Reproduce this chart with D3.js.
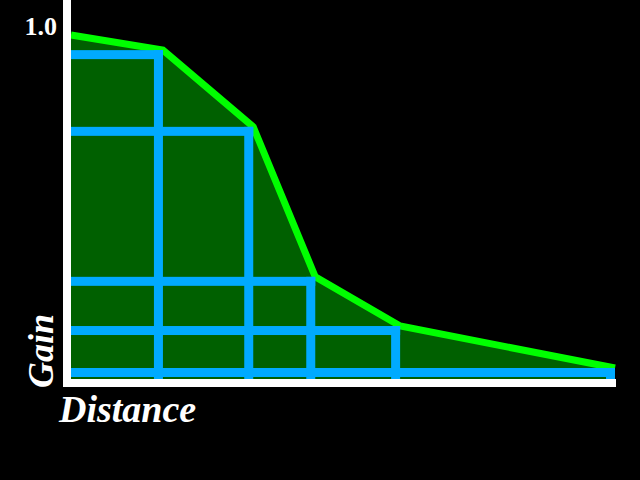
<!DOCTYPE html>
<html>
<head>
<meta charset="utf-8">
<script src="https://cdn.jsdelivr.net/npm/d3@7"></script>
<style>
html,body{margin:0;padding:0;background:#000;}
svg{display:block;}
</style>
</head>
<body>
<svg id="chart" width="640" height="480"></svg>
<script>
// Data (normalised distance 0..1, gain 0..1)
const distance = [0, 0.169, 0.335, 0.449, 0.605, 1.0];
const gain     = [1.0, 0.956, 0.733, 0.297, 0.154, 0.032];
const yTickLabels = ["1.0"];
const xTitle = "Distance";
const yTitle = "Gain";

const svg = d3.select("#chart");
svg.append("rect").attr("width",640).attr("height",480).attr("fill","#000");

const x = d3.scaleLinear().domain([0,1]).range([71,615]);
const y = d3.scaleLinear().domain([0,1]).range([379,35]);

const pts = distance.map((d,i)=>({d, g: gain[i]}));

// filled area
const area = d3.area().x(p=>x(p.d)).y0(y(0)).y1(p=>y(p.g));
svg.append("path").datum(pts).attr("d",area).attr("fill","#006000");

// green curve
const line = d3.line().x(p=>x(p.d)).y(p=>y(p.g));
svg.append("path").datum(pts).attr("d",line)
  .attr("fill","none").attr("stroke","#00ff00").attr("stroke-width",7)
  .attr("stroke-linejoin","miter");

// blue step rectangles
const bw = 9;
const steps = pts.slice(1);
const g = svg.append("g").attr("fill","#00aaff");
g.selectAll("rect.h").data(steps).join("rect").attr("class","h")
  .attr("x", x(0)).attr("y", p=>y(p.g))
  .attr("width", p=>x(p.d)-x(0)).attr("height", bw);
g.selectAll("rect.v").data(steps).join("rect").attr("class","v")
  .attr("x", p=>x(p.d)-bw).attr("y", p=>y(p.g))
  .attr("width", bw).attr("height", p=>y(0)+1-y(p.g));

// axes
svg.append("rect").attr("x",63).attr("y",0).attr("width",8).attr("height",y(0)+8).attr("fill","#fff");
svg.append("rect").attr("x",63).attr("y",y(0)).attr("width",x(1)+1-63).attr("height",8).attr("fill","#fff");

// tick label
svg.selectAll("text.tick").data(yTickLabels).join("text").attr("class","tick")
  .attr("x",57).attr("y",y(1))
  .attr("text-anchor","end")
  .attr("font-family","'Liberation Serif','Times New Roman',serif")
  .attr("font-weight","bold").attr("font-size",26).attr("fill","#fff")
  .text(d=>d);

// axis titles
svg.append("text").attr("x",59).attr("y",422)
  .attr("font-family","'Liberation Serif','Times New Roman',serif")
  .attr("font-weight","bold").attr("font-style","italic")
  .attr("font-size",38).attr("fill","#fff").text(xTitle);
svg.append("text").attr("transform","translate(53,388) rotate(-90)")
  .attr("font-family","'Liberation Serif','Times New Roman',serif")
  .attr("font-weight","bold").attr("font-style","italic")
  .attr("font-size",36).attr("fill","#fff").text(yTitle);
</script>
</body>
</html>
